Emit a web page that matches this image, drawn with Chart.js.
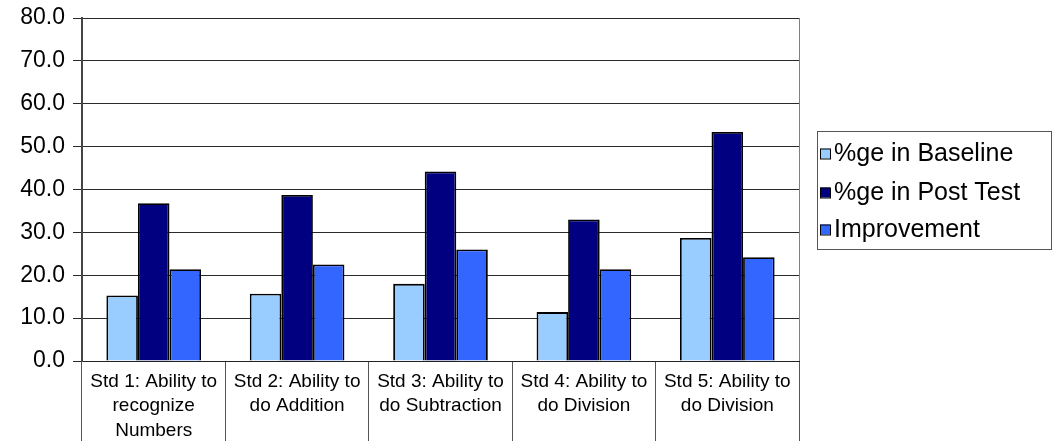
<!DOCTYPE html>
<html>
<head>
<meta charset="utf-8">
<script src="https://cdn.jsdelivr.net/npm/chart.js@4/dist/chart.umd.min.js"></script>
<style>
  body { margin: 0; background: #fff; }
  #chart { display: block; }
</style>
</head>
<body>
<canvas id="chart" width="1055" height="442"></canvas>
<script>
const categories = [
    ['Std 1: Ability to', 'recognize', 'Numbers'],
    ['Std 2: Ability to', 'do Addition'],
    ['Std 3: Ability to', 'do Subtraction'],
    ['Std 4: Ability to', 'do Division'],
    ['Std 5: Ability to', 'do Division']
];
const baseline = [15.3, 15.7, 18.0, 11.4, 28.7];
const postTest = [36.8, 38.7, 44.2, 33.0, 53.4];
const improvement = [21.4, 22.5, 26.0, 21.4, 24.2];
const seriesNames = ['%ge in Baseline', '%ge in Post Test', 'Improvement'];
const seriesColors = ['#99CCFF', '#000080', '#3366FF'];

const FONT = '"Liberation Sans", Arial, sans-serif';

// legend box with border, drawn like the spreadsheet one
const boxLegend = {
    id: 'boxLegend',
    afterDraw(chart) {
        const ctx = chart.ctx;
        const area = chart.chartArea;
        ctx.save();
        // right edge of the plot area
        ctx.strokeStyle = '#808080';
        ctx.lineWidth = 1;
        ctx.beginPath();
        ctx.moveTo(Math.round(area.right) + 0.5, area.top);
        ctx.lineTo(Math.round(area.right) + 0.5, area.bottom);
        ctx.stroke();

        ctx.strokeStyle = '#555';
        ctx.strokeRect(817.5, 131.5, 234, 118);
        const rows = [153.5, 192.5, 229.5];
        ctx.font = '25px ' + FONT;
        ctx.textBaseline = 'middle';
        chart.data.datasets.forEach((ds, i) => {
            ctx.fillStyle = ds.backgroundColor;
            ctx.fillRect(820, rows[i] - 5, 10, 10);
            ctx.strokeStyle = '#000';
            ctx.strokeRect(820.5, rows[i] - 4.5, 10, 10);
            ctx.fillStyle = '#000';
            ctx.fillText(ds.label, 834, rows[i] + 1);
        });
        ctx.restore();
    }
};

new Chart(document.getElementById('chart'), {
    type: 'bar',
    data: {
        labels: categories,
        datasets: [baseline, postTest, improvement].map((d, i) => ({
            label: seriesNames[i],
            data: d,
            backgroundColor: seriesColors[i],
            borderColor: '#000',
            borderWidth: 1.8,
            categoryPercentage: 0.66,
            barPercentage: 1
        }))
    },
    options: {
        responsive: false,
        animation: false,
        layout: { padding: { top: 18, right: 256, left: 0, bottom: 0 } },
        plugins: {
            legend: { display: false },
            tooltip: { enabled: false }
        },
        scales: {
            x: {
                afterFit: s => { s.height = 81; },
                grid: {
                    offset: true,
                    drawOnChartArea: false,
                    tickLength: 80,
                    color: '#555'
                },
                border: { color: '#222' },
                ticks: {
                    autoSkip: false,
                    maxRotation: 0,
                    padding: -72,
                    color: '#000',
                    font: { family: FONT, size: 19, lineHeight: 1.3 }
                }
            },
            y: {
                min: 0,
                max: 80,
                afterFit: s => { s.width = 82; s.paddingTop = 0; },
                grid: { color: '#2a2a2a', tickLength: 9 },
                border: { color: '#444', width: 2 },
                ticks: {
                    stepSize: 10,
                    padding: 8,
                    color: '#000',
                    font: { family: FONT, size: 23, lineHeight: 1 },
                    callback: v => v.toFixed(1)
                }
            }
        }
    },
    plugins: [boxLegend]
});
</script>
</body>
</html>
